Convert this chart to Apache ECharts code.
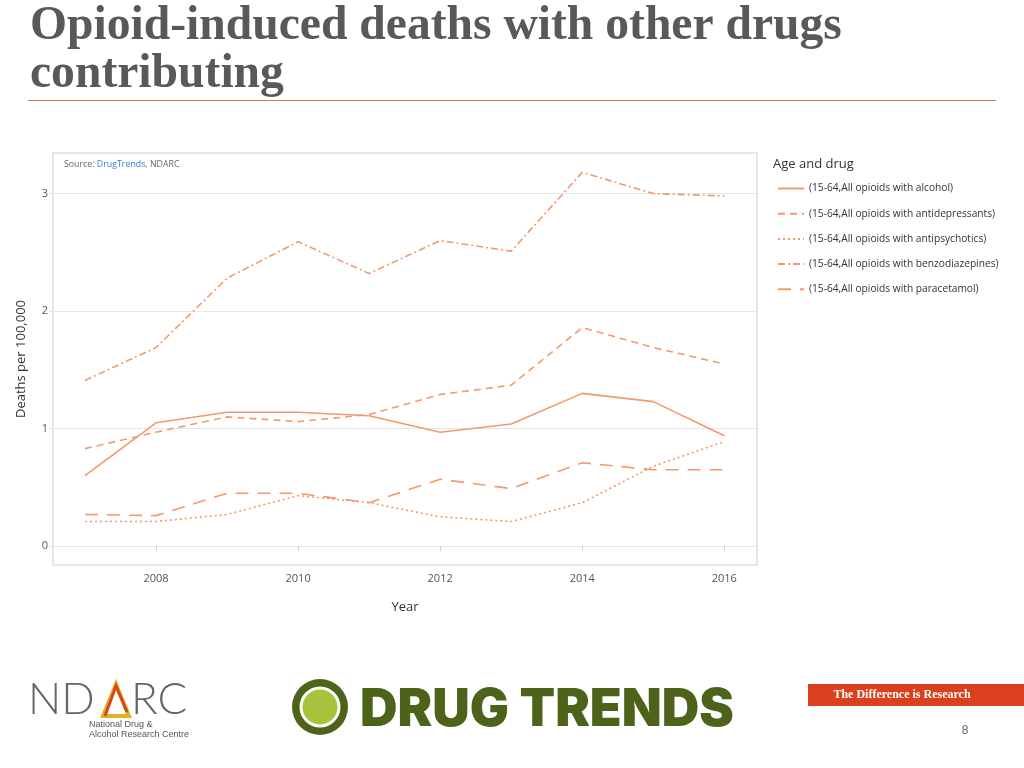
<!DOCTYPE html>
<html>
<head>
<meta charset="utf-8">
<script src="https://cdn.jsdelivr.net/npm/echarts@6/dist/echarts.min.js"></script>
<style>
html,body{margin:0;padding:0;background:#fff;}
#c{width:1024px;height:768px;}
</style>
</head>
<body>
<div id="c"></div>
<script>
const years = [2007, 2008, 2009, 2010, 2011, 2012, 2013, 2014, 2015, 2016];
const alcohol = [0.60, 1.05, 1.14, 1.14, 1.11, 0.97, 1.04, 1.30, 1.23, 0.94];
const antidepressants = [0.83, 0.97, 1.10, 1.06, 1.12, 1.29, 1.37, 1.86, 1.69, 1.55];
const antipsychotics = [0.21, 0.21, 0.27, 0.43, 0.37, 0.25, 0.21, 0.37, 0.68, 0.89];
const benzodiazepines = [1.41, 1.69, 2.28, 2.59, 2.32, 2.60, 2.51, 3.18, 3.00, 2.98];
const paracetamol = [0.27, 0.26, 0.45, 0.45, 0.37, 0.57, 0.49, 0.71, 0.65, 0.65];
const seriesNames = [
  '(15-64,All opioids with alcohol)',
  '(15-64,All opioids with antidepressants)',
  '(15-64,All opioids with antipsychotics)',
  '(15-64,All opioids with benzodiazepines)',
  '(15-64,All opioids with paracetamol)'
];
const xTicks = [2008, 2010, 2012, 2014, 2016];
const yTicks = [0, 1, 2, 3];

const lineColor = '#f3996b';
const dashes = ['solid', [7, 5], [2, 3], [7, 3, 2, 3], [13, 9]];
const allValues = [alcohol, antidepressants, antipsychotics, benzodiazepines, paracetamol];

const series = allValues.map((vals, i) => ({
  name: seriesNames[i],
  type: 'line',
  symbol: 'none',
  smooth: false,
  data: years.map((y, j) => [y, vals[j]]),
  lineStyle: { color: lineColor, width: 1.6, type: dashes[i] },
  itemStyle: { color: lineColor },
  emphasis: { disabled: true }
}));

const chart = echarts.init(document.getElementById('c'), null, { renderer: 'canvas' });
chart.setOption({
  animation: false,
  backgroundColor: '#ffffff',
  grid: {
    left: 53, top: 153, right: 267, bottom: 203,
    show: true, borderColor: '#dedede', borderWidth: 1.5, backgroundColor: 'transparent'
  },
  xAxis: {
    type: 'value',
    min: 2006.55, max: 2016.46,
    name: 'Year', nameLocation: 'middle', nameGap: 36,
    nameTextStyle: { fontFamily: 'Open Sans', fontSize: 13, color: '#333' },
    axisLine: { show: false },
    axisTick: { show: true, customValues: xTicks, length: 5, lineStyle: { color: '#cfcfcf' } },
    axisLabel: { customValues: xTicks, formatter: v => String(v), fontFamily: 'Open Sans', fontSize: 11, color: '#555', margin: 8 },
    splitLine: { show: false }
  },
  yAxis: {
    type: 'value',
    min: -0.16, max: 3.345,
    name: 'Deaths per 100,000', nameLocation: 'middle', nameGap: 25,
    nameTextStyle: { fontFamily: 'Open Sans', fontSize: 13, color: '#333' },
    axisLine: { show: false },
    axisTick: { show: true, customValues: yTicks, length: 3, lineStyle: { color: '#dcdcdc' } },
    axisLabel: { customValues: yTicks, fontFamily: 'Open Sans', fontSize: 11, color: '#555', margin: 5 },
    splitLine: { show: true, lineStyle: { color: '#e6e6e6', width: 1 } }
  },
  legend: {
    orient: 'vertical',
    left: 777, top: 183.5, padding: 0,
    itemWidth: 26, itemHeight: 10, itemGap: 15.2,
    itemStyle: { opacity: 0, borderWidth: 0 },
    textStyle: { fontFamily: 'Open Sans', fontSize: 10.2, color: '#333' },
    data: seriesNames,
    selectedMode: false
  },
  series: series,
  graphic: [
    { type: 'text', left: 30, top: 3, style: { text: 'Opioid-induced deaths with other drugs\ncontributing', font: 'bold 47.6px "Liberation Serif"', fill: '#595959', lineHeight: 48 } },
    { type: 'rect', shape: { x: 28, y: 100, width: 968, height: 1 }, style: { fill: '#c8785a' } },
    { type: 'text', left: 64, top: 159.5, style: { rich: { a: { fill: '#666', fontSize: 8.8, fontFamily: 'Open Sans' }, b: { fill: '#3b7dd8', fontSize: 8.8, fontFamily: 'Open Sans' } }, text: '{a|Source: }{b|DrugTrends}{a|, NDARC}' } },
    { type: 'text', left: 773, top: 158, style: { text: 'Age and drug', font: '13px "Open Sans"', fill: '#333' } },
    // NDARC logo
    { type: 'text', left: 28, top: 678, style: { text: 'ND', font: '300 44px Lato', fill: '#666' } },
    { type: 'polygon', shape: { points: [[103, 716], [116, 684], [129, 716]] }, style: { fill: 'none', stroke: '#e0b21e', lineWidth: 4 } },
    { type: 'polyline', shape: { points: [[105, 716], [116, 686], [127, 712]] }, style: { fill: 'none', stroke: '#d9431e', lineWidth: 3 } },
    { type: 'text', left: 131, top: 678, style: { text: 'RC', font: '300 44px Lato', fill: '#666' } },
    { type: 'text', left: 89, top: 720, style: { text: 'National Drug &\nAlcohol Research Centre', font: '9px "Liberation Sans Narrow", "Liberation Sans"', fill: '#555', lineHeight: 10 } },
    // DRUG TRENDS logo
    { type: 'circle', shape: { cx: 320, cy: 707, r: 28 }, style: { fill: '#4d6319' } },
    { type: 'circle', shape: { cx: 320, cy: 707, r: 19 }, style: { fill: '#a9c23c', stroke: '#ffffff', lineWidth: 3 } },
    { type: 'text', left: 360, top: 684, style: { text: 'DRUG TRENDS', font: '900 52px Inter', fill: '#4d6319' } },
    // Banner
    { type: 'rect', shape: { x: 808, y: 684, width: 216, height: 22 }, style: { fill: '#d9411e' } },
    { type: 'text', x: 902, y: 695, style: { text: 'The Difference is Research', font: 'bold 12px "Liberation Serif"', fill: '#fff', align: 'center', verticalAlign: 'middle' } },
    { type: 'text', x: 965, y: 731, style: { text: '8', font: '12px "Liberation Sans"', fill: '#666', align: 'center', verticalAlign: 'middle' } }
  ]
});
</script>
</body>
</html>
